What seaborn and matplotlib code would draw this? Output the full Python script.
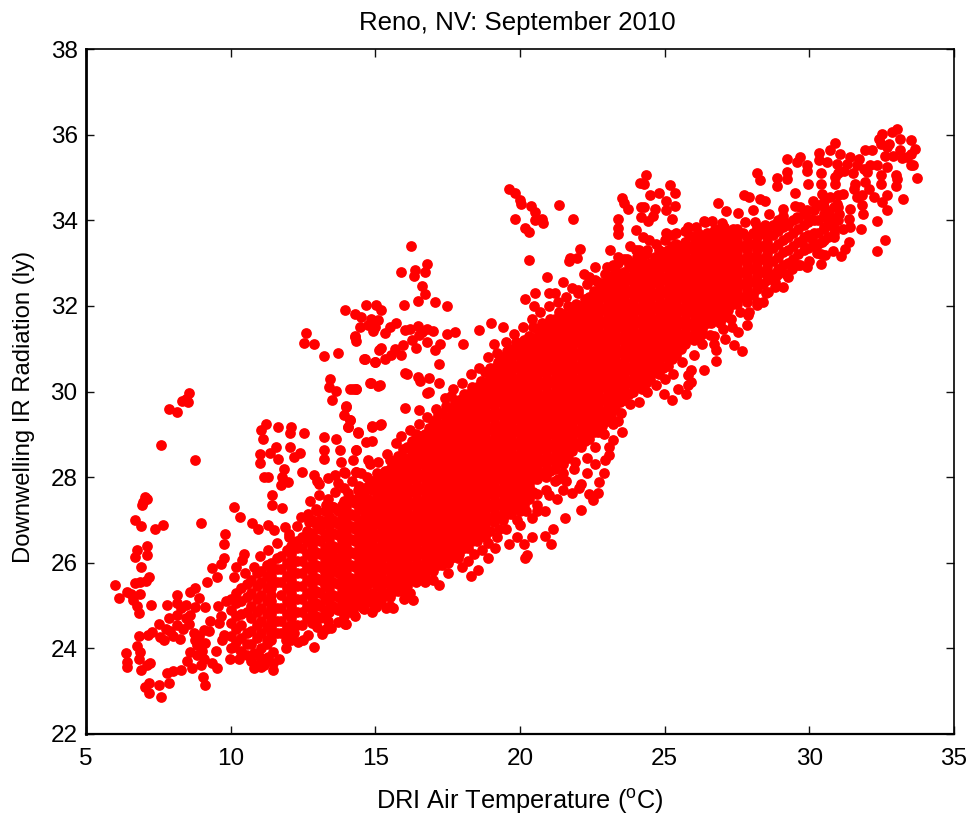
#!/usr/bin/env python3
# Reno, NV: September 2010 - downwelling IR against air temperature
import numpy as np
import pandas as pd
import matplotlib
matplotlib.use('Agg')
import matplotlib.pyplot as plt
import seaborn as sns

x_ticks = [5, 10, 15, 20, 25, 30, 35]
y_ticks = [22, 24, 26, 28, 30, 32, 34, 36, 38]

# (temperature, radiation)
cold_points = [
    (8.55,29.97),(8.47,29.83),(8.32,29.78),(8.52,29.76),(7.88,29.6),(8.16,29.51),(7.6,28.76),(8.78,28.39),
    (7.05,27.54),(6.93,27.36),(7.1,27.5),(6.98,27.42),(6.7,26.99),(6.91,26.85),(7.39,26.8),(7.67,26.89),(8.99,26.94),
    (6.77,26.29),(7.1,26.38),(6.7,26.14),(7.1,26.19),(6.91,25.9),(7.19,25.67),(7.08,25.58),(6.7,25.53),(6.87,25.54),
    (6.0,25.48),(6.14,25.17),(6.42,25.31),(6.56,25.28),(6.64,25.14),(6.87,25.28),(6.77,25.0),(6.84,24.83),(7.26,25.02),
    (8.78,25.4),(8.61,25.32),(8.16,25.24),(8.9,25.17),(9.13,24.97),(8.78,24.97),(8.44,25.01),(8.15,25.05),(7.8,25.01),
    (8.61,24.78),(8.15,24.78),(7.86,24.7),(8.55,24.58),(7.54,24.57),(8.15,24.54),(7.28,24.39),(6.84,24.29),(7.16,24.31),
    (7.57,24.27),(7.68,24.19),(8.26,24.23),(8.72,24.36),(9.07,24.43),(9.25,24.41),(9.77,24.31),(9.71,24.19),(9.59,24.6),
    (8.84,24.08),(9.1,24.12),(6.77,24.05),(6.39,23.9),(6.87,23.92),(6.84,23.76),(6.42,23.69),(6.42,23.57),(7.22,23.66),
    (7.1,23.62),(6.91,23.49),(8.59,23.92),(8.49,23.71),(8.84,23.84),(9.48,23.94),(9.07,23.76),(9.36,23.65),(9.54,23.53),
    (8.67,23.53),(8.96,23.61),(8.29,23.49),(8.01,23.48),(7.8,23.43),(9.05,23.34),(9.13,23.14),(7.88,23.2),(7.19,23.2),
    (7.05,23.1),(7.53,23.14),(7.19,22.96),(7.6,22.87),(7.9,24.4),(8.35,24.45),(8.9,24.3),(8.0,24.3),(9.0,23.95),
    (8.3,24.95),(8.45,24.7),(7.75,24.45),(8.75,24.2),(9.3,24.65),(9.65,24.75),(9.85,25.1),(9.55,25.0),
]
lower_left_points = [
    (9.96,23.76),(10.11,24.04),(10.35,23.92),(10.58,23.84),(10.81,23.9),(10.81,23.53),(11.04,23.57),(11.45,23.49),
    (11.48,23.65),(11.68,23.76),(11.91,24.02),(11.45,23.92),(12.31,24.15),(12.02,24.31),(12.66,24.31),(12.89,24.04),
    (13.16,24.33),(13.99,24.56),(13.7,24.62),(13.35,24.64),(13.47,24.47),(15.03,24.97),(14.6,24.93),(14.22,24.85),
    (11.15,23.6),(10.95,23.6),(11.25,24.1),(12.1,24.2),
]
left_arm_points = [
    (12.6,31.37),(12.52,31.14),(12.87,31.1),(13.24,30.82),(13.71,30.91),(14.28,31.27),(14.62,30.77),(14.98,30.68),(15.13,30.96),
    (13.44,30.3),(13.41,30.11),(13.64,30.01),(14.14,30.06),(14.34,30.06),(14.82,30.21),(15.09,30.12),(13.5,29.79),(13.99,29.65),
    (13.9,29.46),(14.14,29.33),(14.05,29.17),(14.41,29.04),(14.89,29.17),(15.15,29.21),(11.21,29.23),(11.04,29.1),(11.62,29.17),
    (12.08,29.17),(12.05,29.04),(12.53,29.04),(11.13,28.9),(13.24,28.94),(13.64,28.9),(11.56,28.71),(12.05,28.71),(11.0,28.53),
    (11.35,28.57),(12.39,28.57),(12.2,28.47),(11.63,28.43),(13.24,28.63),(13.24,28.43),(13.78,28.63),(13.82,28.36),(14.34,28.63),
    (11.0,28.34),(11.84,28.2),(12.46,28.11),(11.14,28.01),(11.29,28.01),(11.79,28.0),(11.97,27.89),(11.73,27.81),(12.89,28.05),
    (13.35,27.97),(13.6,28.05),(13.93,28.12),(14.34,28.11),(13.7,27.87),(13.07,27.85),(11.42,27.59),(11.42,27.36),(11.77,27.27),
    (12.74,27.45),(13.07,27.58),(13.35,27.5),(14.05,27.62),(10.1,27.31),(10.31,27.08),(10.73,26.94),(10.94,26.8),(11.28,26.89),
    (11.49,26.76),(11.87,26.84),(12.02,26.68),(12.43,27.07),(12.66,27.13),(9.82,26.66),(9.76,26.43),(9.77,26.1),(9.65,25.98),
    (9.34,25.87),(10.17,25.91),(10.11,25.67),(9.54,25.67),(9.19,25.54),(10.46,26.2),(10.4,26.06),(14.75,28.4),(14.7,28.0),
    (13.0,27.9),(12.95,27.25),(13.55,27.3),(13.9,27.45),(14.4,27.7),
]
upper_arm_points = [
    (13.94,31.9),(14.28,31.82),(14.69,32.03),(15.04,32.03),(15.19,31.9),(14.51,31.75),(14.86,31.7),(15.09,31.67),(14.46,31.51),
    (14.92,31.42),(15.32,31.36),(15.73,31.61),(16.02,31.43),(16.48,31.53),(16.77,31.47),(17.0,31.42),(14.28,31.3),(14.34,31.17),
    (16.5,31.32),(16.25,31.2),(15.19,31.02),(15.67,31.0),(15.96,31.08),(16.42,31.02),(16.77,31.16),(17.23,31.1),(17.06,30.97),
    (14.63,30.77),(14.98,30.68),(15.32,30.77),(15.9,30.85),(17.19,30.64),(16.02,30.44),(16.48,30.33),(16.85,30.31),(17.2,30.21),
    (14.84,30.21),(15.15,30.15),(14.23,30.07),(14.34,30.07),(16.8,29.96),(16.02,29.61),(16.5,29.57),(13.99,29.64),(14.11,29.33),
    (14.05,29.18),(14.4,29.05),(14.88,29.19),(15.19,29.24),(14.69,28.83),(14.9,28.85),(14.34,28.63),(14.23,28.4),(14.34,28.11),(13.94,28.09),
    (16.22,33.39),(16.78,32.97),(16.71,32.78),(16.37,32.84),(16.35,32.7),(15.87,32.78),(16.63,32.46),(16.71,32.27),(16.48,32.11),
    (16.0,32.03),(17.06,32.08),(17.47,32.0),(19.0,31.61),(18.58,31.43),(17.76,31.38),(17.47,31.34),(18.02,31.1),(15.5,31.5),(15.55,30.85),
    (14.75,31.55),(16.2,31.45),(16.6,31.4),(15.0,31.5),(16.1,30.4),(16.55,30.25),(16.85,30.0),
    (19.62,34.74),(19.84,34.64),(20.01,34.47),(20.05,34.39),(20.39,34.33),(20.51,34.2),(20.51,34.0),(20.76,34.04),(20.81,33.94),
    (19.83,34.04),(20.16,33.81),(20.3,33.72),(21.35,34.35),(21.84,34.04),(20.31,33.07),(21.74,33.11),(21.98,33.11),(22.06,33.34),
    (21.7,33.05),(23.1,33.3),(23.38,33.15),(23.2,32.95),(22.6,32.9),(22.4,32.68),(20.95,32.68),(21.5,32.55),(21.78,32.41),(21.99,32.36),
    (20.17,32.17),(20.52,32.31),(21.0,32.31),(23.52,34.51),(23.72,34.27),(23.38,34.04),(23.38,33.81),(23.38,33.69),(24.0,33.77),
    (24.16,34.86),(24.18,34.31),(24.18,34.08),(23.6,34.4),(24.36,35.05),(24.3,34.85),(25.19,34.83),(24.82,34.64),(24.49,34.6),(25.34,34.64),
    (25.05,34.46),(25.34,34.33),(24.3,34.32),(24.65,34.27),(25.05,34.23),(24.59,34.11),(24.41,33.99),(25.26,34.04),(25.05,33.71),(25.26,33.66),
    (24.47,33.53),(24.24,33.61),(23.8,33.4),(23.6,33.1),(24.1,33.3),(22.95,32.75),(22.7,32.55),
]
right_points = [
    (33.04,36.14),(32.86,36.06),(32.52,36.02),(32.4,35.9),(33.15,35.9),(33.5,35.87),(33.64,35.67),(32.75,35.79),(32.46,35.79),(33.15,35.63),
    (32.69,35.71),(30.87,35.81),(30.32,35.58),(29.22,35.44),(29.68,35.48),(29.56,35.36),(29.91,35.28),(29.91,35.15),(30.72,35.63),(31.07,35.55),
    (31.42,35.48),(31.71,35.44),(31.94,35.63),(32.17,35.63),(30.32,35.4),(30.6,35.36),(30.95,35.32),(31.3,35.32),(31.65,35.28),(32.0,35.13),
    (32.34,35.28),(32.69,35.24),(33.5,35.28),(33.38,35.48),(33.5,35.55),(33.6,35.3),(33.73,34.99),(32.98,35.06),(33.04,34.97),(32.98,34.79),
    (32.69,34.6),(32.46,35.05),(32.48,34.85),(31.94,34.89),(31.59,34.85),(31.55,34.74),(32.05,34.74),(32.23,34.54),(32.52,34.43),(32.69,34.23),
    (33.24,34.5),(32.34,33.99),(32.63,33.53),(32.34,33.29),(31.79,33.8),(31.42,33.84),(31.36,33.49),(31.24,33.34),(31.09,33.16),(30.81,33.28),
    (30.4,32.97),(30.55,33.18),(30.26,33.24),(29.91,32.91),(29.68,32.95),(29.41,32.87),(29.27,32.67),(29.08,32.44),(28.81,32.44),(28.41,32.08),
    (28.18,32.01),(28.58,32.32),(28.87,32.71),(28.18,35.11),(28.31,34.95),(28.87,34.99),(28.87,34.81),(29.22,35.13),(29.22,34.97),(29.97,34.84),
    (30.4,35.11),(30.4,34.84),(30.43,34.62),(30.72,34.54),(30.9,34.85),(31.18,34.62),(31.65,34.54),(31.82,34.58),(29.49,34.64),(30.12,34.46),
    (27.75,34.6),(27.92,34.54),(28.29,34.5),(28.46,34.46),(26.86,34.41),(27.13,34.22),(27.54,34.18),(28.04,34.23),(28.59,34.14),(29.08,34.27),
    (29.51,34.33),(29.68,34.31),(29.91,34.23),(30.49,34.31),(30.49,34.08),(30.95,34.39),(31.42,34.27),(31.82,34.35),(31.86,34.15),(31.01,34.15),
    (31.36,34.04),(25.81,33.85),(26.36,33.99),(26.65,33.99),(26.99,33.94),(27.77,33.96),(28.12,33.97),(28.46,33.88),(28.87,33.92),(29.22,33.94),
    (29.56,34.08),(30.03,34.04),(30.49,33.8),(30.84,33.84),(31.18,33.8),(30.08,33.57),(29.74,33.49),(30.43,33.49),(30.84,33.61),(30.7,34.1),(31.0,35.1),
    (30.9,35.0),(31.2,35.15),(31.5,35.1),(32.9,35.5),(33.2,35.45),(32.6,35.5),(32.1,35.3),(31.9,35.2),
]
lower_edge_points = [
    (27.68,30.95),(27.4,31.09),(26.79,30.72),(26.76,30.96),(26.7,31.12),(26.36,30.51),(25.9,30.5),(25.8,30.38),(25.92,30.22),(25.8,30.15),
    (25.74,29.93),(25.46,30.07),(24.97,29.93),(25.26,29.8),(27.83,31.55),(27.54,31.38),(27.08,31.23),(26.58,31.33),(27.31,31.51),(26.27,31.31),(27.89,31.78),
    (23.52,29.05),(23.22,28.87),(23.08,28.71),(23.08,28.52),(22.9,28.09),(22.73,27.88),(22.7,27.62),(22.38,27.61),(22.52,27.47),(22.12,27.23),
    (22.04,27.74),(21.81,27.64),(21.57,27.04),(21.13,26.8),(20.88,26.63),(21.08,26.44),(20.59,27.22),(20.24,26.18),(20.16,26.1),(20.13,26.44),
    (20.42,26.61),(20.01,26.88),(19.61,26.43),(19.26,26.8),(21.0,27.58),(21.29,27.5),(18.91,26.1),(19.14,26.34),(18.54,25.83),(18.3,25.68),
    (17.52,25.75),(17.87,26.1),(17.2,25.48),(16.29,25.13),(15.61,24.94),(15.38,24.94),(15.04,24.98),(14.57,24.94),(14.17,24.86),(13.96,24.57),
    (15.27,25.25),(15.96,25.33),(16.46,25.6),(17.41,26.38),(18.16,26.49),(21.6,27.9),(22.3,28.1),(21.9,28.35),(22.6,28.3),(21.2,27.9),(20.6,27.6),
    (20.85,27.2),(21.5,27.7),(22.1,27.85),(22.95,28.4),(23.4,29.3),(19.9,26.6),(18.7,26.3),(18.0,25.9),
]
# scattered marks along the rim of the dense part
upper_rim = [
    (10.5,25.75),(10.8,25.9),(11.0,26.15),(11.3,26.3),(11.6,26.45),(12.0,26.6),(12.3,26.85),(12.7,26.95),(13.0,27.2),(12.8,27.0),
    (13.3,27.35),(13.6,27.65),(13.9,27.75),(14.2,27.9),(14.5,28.1),(14.8,28.3),(15.1,28.35),(15.4,28.55),(15.7,28.8),(15.5,28.4),
    (15.9,28.95),(16.2,29.1),(16.5,29.25),(16.4,29.0),(16.8,29.4),(17.1,29.6),(17.4,29.85),(17.7,30.05),(18.0,30.2),(17.6,29.9),
    (18.3,30.4),(18.6,30.55),(18.9,30.8),(19.2,30.9),(19.1,31.1),(19.5,31.15),(19.8,31.35),(19.4,31.5),(20.1,31.5),(20.4,31.7),
    (20.7,31.85),(20.5,32.0),(21.0,32.0),(21.3,32.1),(21.2,32.3),(21.6,32.2),(22.0,32.3),(22.3,32.5),(22.2,32.75),(22.6,32.6),
    (23.0,32.9),(23.4,33.0),(23.7,33.1),(24.0,33.3),(24.4,33.3),(24.7,33.45),(25.0,33.55),(25.4,33.7),(25.7,33.75),(26.1,33.85),(26.4,33.95),
]
lower_rim = [
    (10.3,23.75),(10.7,23.7),(11.0,23.8),(11.3,23.8),(11.9,24.2),(12.5,24.2),(12.2,24.35),(13.0,24.5),(13.3,24.45),(13.9,24.75),
    (14.3,24.75),(14.9,24.85),(15.5,25.0),(16.0,25.15),(16.2,25.3),(16.7,25.55),(17.0,25.6),(17.5,26.0),(18.2,26.05),(18.4,26.2),
    (18.9,26.45),(19.2,26.6),(19.5,26.8),(19.9,27.0),(20.2,27.2),(20.4,27.05),(20.6,27.35),(20.9,27.7),(21.3,27.95),(21.5,28.1),
    (21.85,28.2),(22.3,28.45),(22.6,28.7),(22.9,29.0),(23.2,29.25),(23.5,29.5),(23.8,29.7),(24.1,29.75),(24.4,30.0),(24.7,30.15),
    (25.0,30.3),(25.3,30.4),(25.6,30.7),(26.0,30.85),(26.3,31.1),(26.7,31.3),(27.0,31.45),(27.3,31.7),(27.6,31.85),(27.9,31.85),
    (28.2,32.1),(28.5,32.3),(28.8,32.55),(29.2,32.75),(29.6,32.95),(30.0,33.05),(30.4,33.2),
]

# dense part of the cloud, estimated column by column
band_columns = [
    (10.0,[24.0,24.3,24.6,24.9,25.15]),
    (10.35,[23.95,24.25,24.55,24.8,25.1,25.4]),
    (10.7,[24.1,24.4,24.7,25.0,25.3,25.6]),
    (11.05,[24.0,24.35,24.65,24.95,25.25,25.55,25.8]),
    (11.4,[24.2,24.5,24.8,25.1,25.4,25.7,26.0]),
    (11.75,[24.35,24.65,24.95,25.25,25.55,25.85,26.15]),
    (12.1,[24.4,24.7,25.0,25.3,25.6,25.9,26.2,26.4]),
    (12.45,[24.55,24.85,25.15,25.45,25.75,26.05,26.35,26.6]),
    (12.8,[24.6,24.9,25.2,25.5,25.8,26.1,26.4,26.7]),
    (13.1,[24.7,25.0,25.3,25.6,25.9,26.2,26.5,26.8,27.0]),
    (13.4,[24.85,25.1,25.4,25.7,26.0,26.25,26.55,26.85,27.1]),
    (13.7,[24.9,25.2,25.5,25.75,26.05,26.35,26.65,26.9,27.2]),
    (14.0,[24.95,25.25,25.5,25.8,26.1,26.4,26.7,27.0,27.3]),
    (14.3,[25.0,25.3,25.6,25.9,26.2,26.5,26.8,27.1,27.4]),
    (14.6,[25.05,25.35,25.6,25.9,26.2,26.5,26.8,27.05,27.35,27.65]),
    (14.9,[25.05,25.3,25.6,25.9,26.2,26.5,26.8,27.1,27.4,27.7,27.9]),
    (15.2,[25.1,25.4,25.7,26.0,26.25,26.55,26.85,27.15,27.45,27.75,28.0]),
    (15.5,[25.2,25.5,25.8,26.1,26.4,26.7,27.0,27.3,27.6,27.9,28.2]),
    (15.8,[25.35,25.6,25.9,26.2,26.5,26.8,27.1,27.4,27.7,28.0,28.3,28.5]),
    (16.1,[25.45,25.75,26.05,26.35,26.65,26.95,27.25,27.55,27.85,28.15,28.45,28.7]),
    (16.4,[25.55,25.8,26.1,26.4,26.7,27.0,27.3,27.6,27.9,28.2,28.5,28.8]),
    (16.7,[25.7,26.0,26.3,26.6,26.9,27.2,27.5,27.8,28.1,28.4,28.7,29.0]),
    (17.0,[25.8,26.1,26.4,26.7,27.0,27.3,27.6,27.9,28.2,28.5,28.8,29.1,29.3]),
    (17.3,[25.95,26.25,26.55,26.85,27.15,27.45,27.75,28.05,28.35,28.65,28.95,29.25,29.5]),
    (17.6,[26.1,26.4,26.7,27.0,27.3,27.6,27.9,28.2,28.5,28.8,29.1,29.4,29.6]),
    (17.9,[26.2,26.5,26.8,27.1,27.4,27.7,28.0,28.3,28.6,28.9,29.2,29.5,29.8]),
    (18.2,[26.35,26.65,26.95,27.25,27.55,27.85,28.15,28.45,28.75,29.05,29.35,29.65,29.95]),
    (18.5,[26.5,26.8,27.1,27.4,27.7,28.0,28.3,28.6,28.9,29.2,29.5,29.8,30.1]),
    (18.8,[26.6,26.9,27.2,27.5,27.8,28.1,28.4,28.7,29.0,29.3,29.6,29.9,30.2,30.45]),
    (19.1,[26.95,27.25,27.55,27.85,28.15,28.45,28.75,29.05,29.35,29.65,29.95,30.25,30.55]),
    (19.4,[27.0,27.3,27.6,27.9,28.2,28.5,28.8,29.1,29.4,29.7,30.0,30.3,30.6,30.8]),
    (19.7,[27.15,27.45,27.75,28.05,28.35,28.65,28.95,29.25,29.55,29.85,30.15,30.45,30.75,31.0]),
    (20.0,[27.2,27.5,27.8,28.1,28.4,28.7,29.0,29.3,29.6,29.9,30.2,30.5,30.8,31.05]),
    (20.3,[27.5,27.8,28.1,28.4,28.7,29.0,29.3,29.6,29.9,30.2,30.5,30.8,31.1,31.3]),
    (20.6,[27.95,28.25,28.55,28.85,29.15,29.45,29.75,30.05,30.35,30.65,30.95,31.25,31.45]),
    (20.9,[28.0,28.3,28.6,28.9,29.2,29.5,29.8,30.1,30.4,30.7,31.0,31.3,31.55]),
    (21.2,[28.2,28.5,28.8,29.1,29.4,29.7,30.0,30.3,30.6,30.9,31.2,31.5,31.7]),
    (21.5,[28.3,28.6,28.9,29.2,29.5,29.8,30.1,30.4,30.7,31.0,31.3,31.6,31.8]),
    (21.8,[28.6,28.9,29.2,29.5,29.8,30.1,30.4,30.7,31.0,31.3,31.6,31.9]),
    (22.1,[28.7,29.0,29.3,29.6,29.9,30.2,30.5,30.8,31.1,31.4,31.7,32.0]),
    (22.4,[28.9,29.2,29.5,29.8,30.1,30.4,30.7,31.0,31.3,31.6,31.9,32.2]),
    (22.7,[29.05,29.35,29.65,29.95,30.25,30.55,30.85,31.15,31.45,31.75,32.05,32.35]),
    (23.0,[29.3,29.6,29.9,30.2,30.5,30.8,31.1,31.4,31.7,32.0,32.3,32.6]),
    (23.3,[29.6,29.9,30.2,30.5,30.8,31.1,31.4,31.7,32.0,32.3,32.6,32.85]),
    (23.6,[29.8,30.1,30.4,30.7,31.0,31.3,31.6,31.9,32.2,32.5,32.8]),
    (23.9,[30.0,30.3,30.6,30.9,31.2,31.5,31.8,32.1,32.4,32.7,33.0]),
    (24.2,[30.05,30.35,30.65,30.95,31.25,31.55,31.85,32.15,32.45,32.75,33.05]),
    (24.5,[30.3,30.6,30.9,31.2,31.5,31.8,32.1,32.4,32.7,33.0]),
    (24.8,[30.4,30.7,31.0,31.3,31.6,31.9,32.2,32.5,32.8,33.1,33.3]),
    (25.1,[30.6,30.9,31.2,31.5,31.8,32.1,32.4,32.7,33.0,33.3]),
    (25.4,[30.85,31.15,31.45,31.75,32.05,32.35,32.65,32.95,33.25,33.45]),
    (25.7,[31.1,31.4,31.7,32.0,32.3,32.6,32.9,33.2,33.5]),
    (26.0,[31.2,31.5,31.8,32.1,32.4,32.7,33.0,33.3,33.6]),
    (26.3,[31.45,31.75,32.05,32.35,32.65,32.95,33.25,33.55]),
    (26.6,[31.6,31.9,32.2,32.5,32.8,33.1,33.4,33.7]),
    (26.9,[31.6,31.9,32.2,32.5,32.8,33.1,33.4,33.7]),
    (27.2,[31.9,32.2,32.5,32.8,33.1,33.4,33.65]),
    (27.5,[32.05,32.35,32.65,32.95,33.25,33.55,33.8]),
    (27.85,[32.1,32.4,32.7,33.0,33.3,33.6]),
    (28.2,[32.4,32.7,33.0,33.3,33.6,33.85]),
    (28.55,[32.6,32.9,33.2,33.5,33.75]),
    (28.9,[32.85,33.15,33.45,33.75,34.0]),
    (29.25,[33.0,33.3,33.6,33.9]),
    (29.6,[33.2,33.5,33.8,34.05]),
    (29.95,[33.35,33.65,33.95]),
    (30.3,[33.45,33.7,34.0,34.35]),
    (30.65,[33.6,33.9,34.2]),
    (31.0,[34.0,34.3,34.6]),
]

# second pass over the dense part, between the columns above
fill_columns = [
    (10.2,[24.15,24.45,24.75,25.05,25.3]),
    (10.55,[24.1,24.35,24.85,25.2,25.5]),
    (10.9,[24.25,24.55,24.85,25.15,25.45,25.75]),
    (11.25,[24.2,24.5,24.8,25.1,25.4,25.7,25.95]),
    (11.6,[24.35,24.65,24.95,25.55,25.85,26.1]),
    (11.95,[24.5,24.8,25.1,25.4,25.7,26.0,26.3]),
    (12.3,[24.55,24.85,25.15,25.45,25.75,26.05,26.35,26.5]),
    (12.65,[24.7,25.0,25.3,25.6,25.9,26.2,26.5,26.75]),
    (12.95,[24.75,25.05,25.35,25.65,25.95,26.25,26.55,26.9]),
    (13.25,[24.85,25.15,25.45,25.75,26.05,26.35,26.65,26.95,27.2]),
    (13.55,[25.0,25.25,25.55,25.85,26.15,26.4,26.7,27.0,27.3]),
    (13.85,[25.05,25.35,25.65,25.95,26.2,26.5,26.8,27.05,27.35]),
    (14.15,[25.1,25.4,25.65,25.95,26.25,26.55,26.85,27.15,27.5]),
    (14.45,[25.15,25.45,25.75,26.05,26.35,26.65,26.95,27.25,27.55,27.8]),
    (14.75,[25.2,25.5,25.75,26.05,26.35,26.65,26.95,27.2,27.5,27.8]),
    (15.05,[25.2,25.45,25.75,26.05,26.35,26.65,26.95,27.25,27.55,27.85,28.1]),
    (15.35,[25.25,25.55,25.85,26.15,26.4,26.7,27.0,27.3,27.6,27.9,28.15]),
    (15.65,[25.35,25.65,25.95,26.25,26.55,26.85,27.15,27.45,27.75,28.05,28.35]),
    (15.95,[25.5,25.75,26.05,26.35,26.65,26.95,27.25,27.55,27.85,28.15,28.45,28.65]),
    (16.25,[25.6,25.9,26.2,26.5,26.8,27.1,27.4,27.7,28.0,28.3,28.6,28.85]),
    (16.55,[25.7,25.95,26.25,26.55,26.85,27.15,27.45,27.75,28.05,28.35,28.65,28.95]),
    (16.85,[25.85,26.15,26.45,26.75,27.05,27.35,27.65,27.95,28.25,28.55,28.85,29.15]),
    (17.15,[25.95,26.25,26.55,26.85,27.15,27.45,27.75,28.05,28.35,28.65,28.95,29.25,29.45]),
    (17.45,[26.1,26.4,26.7,27.0,27.3,27.6,27.9,28.2,28.5,28.8,29.1,29.4,29.65]),
    (17.75,[26.25,26.55,26.85,27.15,27.45,27.75,28.05,28.35,28.65,28.95,29.25,29.55,29.75]),
    (18.05,[26.35,26.65,26.95,27.25,27.55,27.85,28.15,28.45,28.75,29.05,29.35,29.65,29.95]),
    (18.35,[26.5,26.8,27.1,27.4,27.7,28.0,28.3,28.6,28.9,29.2,29.5,29.8,30.1]),
    (18.65,[26.65,26.95,27.25,27.55,27.85,28.15,28.45,28.75,29.05,29.35,29.65,29.95,30.25]),
    (18.95,[26.75,27.05,27.35,27.65,27.95,28.25,28.55,28.85,29.15,29.45,29.75,30.05,30.35,30.55]),
    (19.25,[27.1,27.4,27.7,28.0,28.3,28.6,28.9,29.2,29.5,29.8,30.1,30.4,30.7]),
    (19.55,[27.15,27.45,27.75,28.05,28.35,28.65,28.95,29.25,29.55,29.85,30.15,30.45,30.75,30.95]),
    (19.85,[27.3,27.6,27.9,28.2,28.5,28.8,29.1,29.4,29.7,30.0,30.3,30.6,30.9,31.15]),
    (20.15,[27.35,27.65,27.95,28.25,28.55,28.85,29.15,29.45,29.75,30.05,30.35,30.65,30.95,31.2]),
    (20.45,[27.65,27.95,28.25,28.55,28.85,29.15,29.45,29.75,30.05,30.35,30.65,30.95,31.25,31.5]),
    (20.75,[28.1,28.4,28.7,29.0,29.3,29.6,29.9,30.2,30.5,30.8,31.1,31.4,31.6]),
    (21.05,[28.15,28.45,28.75,29.05,29.35,29.65,29.95,30.25,30.55,30.85,31.15,31.45,31.7]),
    (21.35,[28.35,28.65,28.95,29.25,29.55,29.85,30.15,30.45,30.75,31.05,31.35,31.65,31.85]),
    (21.65,[28.45,28.75,29.05,29.35,29.65,29.95,30.25,30.55,30.85,31.15,31.45,31.75,32.0]),
    (21.95,[28.75,29.05,29.35,29.65,29.95,30.25,30.55,30.85,31.15,31.45,31.75,32.05]),
    (22.25,[28.85,29.15,29.45,29.75,30.05,30.35,30.65,30.95,31.25,31.55,31.85,32.15]),
    (22.55,[29.05,29.35,29.65,29.95,30.25,30.55,30.85,31.15,31.45,31.75,32.05,32.35]),
    (22.85,[29.2,29.5,29.8,30.1,30.4,30.7,31.0,31.3,31.6,31.9,32.2,32.5]),
    (23.15,[29.45,29.75,30.05,30.35,30.65,30.95,31.25,31.55,31.85,32.15,32.45,32.7]),
    (23.45,[29.75,30.05,30.35,30.65,30.95,31.25,31.55,31.85,32.15,32.45,32.75]),
    (23.75,[29.95,30.25,30.55,30.85,31.15,31.45,31.75,32.05,32.35,32.65,32.95]),
    (24.05,[30.15,30.45,30.75,31.05,31.35,31.65,31.95,32.25,32.55,32.85,33.15]),
    (24.35,[30.2,30.5,30.8,31.1,31.4,31.7,32.0,32.3,32.6,32.9,33.2]),
    (24.65,[30.45,30.75,31.05,31.35,31.65,31.95,32.25,32.55,32.85,33.15]),
    (24.95,[30.55,30.85,31.15,31.45,31.75,32.05,32.35,32.65,32.95,33.25]),
    (25.25,[30.75,31.05,31.35,31.65,31.95,32.25,32.55,32.85,33.15,33.4]),
    (25.55,[31.0,31.3,31.6,31.9,32.2,32.5,32.8,33.1,33.4]),
    (25.85,[31.25,31.55,31.85,32.15,32.45,32.75,33.05,33.35,33.65]),
    (26.15,[31.35,31.65,31.95,32.25,32.55,32.85,33.15,33.45,33.7]),
    (26.45,[31.6,31.9,32.2,32.5,32.8,33.1,33.4,33.7]),
    (26.75,[31.75,32.05,32.35,32.65,32.95,33.25,33.55,33.8]),
    (27.05,[31.75,32.05,32.35,32.65,32.95,33.25,33.55,33.85]),
    (27.35,[32.05,32.35,32.65,32.95,33.25,33.55,33.8]),
    (27.7,[32.2,32.5,32.8,33.1,33.4,33.7]),
    (28.05,[32.25,32.55,32.85,33.15,33.45,33.7]),
    (28.4,[32.5,32.8,33.1,33.4,33.7]),
    (28.75,[32.75,33.05,33.35,33.65,33.9]),
    (29.1,[32.95,33.25,33.55,33.85,34.1]),
    (29.45,[33.1,33.4,33.7,34.0]),
    (29.8,[33.3,33.6,33.9,34.15]),
    (30.15,[33.4,33.7,34.0,34.25]),
    (30.5,[33.55,33.85,34.15,34.45]),
    (30.85,[33.7,34.0,34.3]),
]

# third pass, closes the gaps left in the solid core
core_columns = [
    (11.4,[24.35,24.65,24.95,25.25,25.55,25.85]),
    (12.1,[24.55,24.85,25.15,25.45,25.75,26.05]),
    (12.8,[24.75,25.05,25.35,25.65,25.95,26.25,26.55]),
    (13.4,[24.95,25.25,25.55,25.85,26.15,26.4,26.7,27.0]),
    (14.0,[25.1,25.35,25.65,25.95,26.25,26.55,26.85,27.15]),
    (14.6,[25.2,25.45,25.75,26.05,26.35,26.65,26.9,27.2,27.5]),
    (15.2,[25.25,25.55,25.85,26.1,26.4,26.7,27.0,27.3,27.6,27.9]),
    (15.8,[25.45,25.75,26.05,26.35,26.65,26.95,27.25,27.55,27.85,28.15]),
    (16.4,[25.7,25.95,26.25,26.55,26.85,27.15,27.45,27.75,28.05,28.35,28.65]),
    (17.0,[25.95,26.25,26.55,26.85,27.15,27.45,27.75,28.05,28.35,28.65,28.95]),
    (17.6,[26.25,26.55,26.85,27.15,27.45,27.75,28.05,28.35,28.65,28.95,29.25]),
    (18.2,[26.5,26.8,27.1,27.4,27.7,28.0,28.3,28.6,28.9,29.2,29.5,29.8]),
    (18.8,[26.75,27.05,27.35,27.65,27.95,28.25,28.55,28.85,29.15,29.45,29.75,30.05]),
    (19.4,[27.15,27.45,27.75,28.05,28.35,28.65,28.95,29.25,29.55,29.85,30.15,30.45]),
    (20.0,[27.35,27.65,27.95,28.25,28.55,28.85,29.15,29.45,29.75,30.05,30.35,30.65]),
    (20.6,[28.1,28.4,28.7,29.0,29.3,29.6,29.9,30.2,30.5,30.8,31.1]),
    (21.2,[28.35,28.65,28.95,29.25,29.55,29.85,30.15,30.45,30.75,31.05,31.35]),
    (21.8,[28.75,29.05,29.35,29.65,29.95,30.25,30.55,30.85,31.15,31.45,31.75]),
    (22.4,[29.05,29.35,29.65,29.95,30.25,30.55,30.85,31.15,31.45,31.75,32.05]),
    (23.0,[29.45,29.75,30.05,30.35,30.65,30.95,31.25,31.55,31.85,32.15,32.45]),
    (23.6,[29.95,30.25,30.55,30.85,31.15,31.45,31.75,32.05,32.35,32.65]),
    (24.2,[30.2,30.5,30.8,31.1,31.4,31.7,32.0,32.3,32.6,32.9]),
    (24.8,[30.55,30.85,31.15,31.45,31.75,32.05,32.35,32.65,32.95]),
    (25.4,[31.0,31.3,31.6,31.9,32.2,32.5,32.8,33.1]),
    (26.0,[31.35,31.65,31.95,32.25,32.55,32.85,33.15,33.45]),
    (26.6,[31.75,32.05,32.35,32.65,32.95,33.25,33.55]),
    (27.2,[32.05,32.35,32.65,32.95,33.25,33.5]),
    (27.85,[32.25,32.55,32.85,33.15,33.45]),
    (28.55,[32.75,33.05,33.35,33.6]),
    (15.5,[25.35,25.65,25.95,26.25,26.55,26.85,27.15,27.45,27.75,28.05]),
    (16.1,[25.6,25.9,26.2,26.5,26.8,27.1,27.4,27.7,28.0,28.3]),
    (16.7,[25.85,26.15,26.45,26.75,27.05,27.35,27.65,27.95,28.25,28.55,28.85]),
    (17.3,[26.1,26.4,26.7,27.0,27.3,27.6,27.9,28.2,28.5,28.8,29.1]),
    (17.9,[26.35,26.65,26.95,27.25,27.55,27.85,28.15,28.45,28.75,29.05,29.35,29.65]),
    (18.5,[26.65,26.95,27.25,27.55,27.85,28.15,28.45,28.75,29.05,29.35,29.65,29.95]),
    (19.1,[27.1,27.4,27.7,28.0,28.3,28.6,28.9,29.2,29.5,29.8,30.1,30.4]),
    (19.7,[27.3,27.6,27.9,28.2,28.5,28.8,29.1,29.4,29.7,30.0,30.3,30.6]),
    (20.3,[27.65,27.95,28.25,28.55,28.85,29.15,29.45,29.75,30.05,30.35,30.65,30.95]),
    (20.9,[28.15,28.45,28.75,29.05,29.35,29.65,29.95,30.25,30.55,30.85,31.15]),
    (21.5,[28.45,28.75,29.05,29.35,29.65,29.95,30.25,30.55,30.85,31.15,31.45]),
    (22.1,[28.85,29.15,29.45,29.75,30.05,30.35,30.65,30.95,31.25,31.55,31.85]),
    (22.7,[29.2,29.5,29.8,30.1,30.4,30.7,31.0,31.3,31.6,31.9,32.2]),
    (23.3,[29.75,30.05,30.35,30.65,30.95,31.25,31.55,31.85,32.15,32.45]),
    (23.9,[30.15,30.45,30.75,31.05,31.35,31.65,31.95,32.25,32.55,32.85]),
    (24.5,[30.45,30.75,31.05,31.35,31.65,31.95,32.25,32.55,32.85]),
    (25.1,[30.75,31.05,31.35,31.65,31.95,32.25,32.55,32.85,33.15]),
    (25.7,[31.25,31.55,31.85,32.15,32.45,32.75,33.05,33.35]),
    (26.3,[31.6,31.9,32.2,32.5,32.8,33.1,33.4]),
    (26.9,[31.75,32.05,32.35,32.65,32.95,33.25,33.55]),
    (27.5,[32.2,32.5,32.8,33.1,33.4,33.65]),
    (28.2,[32.55,32.85,33.15,33.45,33.75]),
]

pts = (cold_points + lower_left_points + left_arm_points + upper_arm_points
       + right_points + lower_edge_points + upper_rim + lower_rim)
for t, rs in band_columns + fill_columns + core_columns:
    pts = pts + [(t, r) for r in rs]
df = pd.DataFrame(pts, columns=['temp', 'rad'])

sns.set_style('ticks')
plt.rcParams['font.family'] = ['Liberation Sans', 'DejaVu Sans']
plt.rcParams['mathtext.default'] = 'regular'
plt.rcParams['text.color'] = 'black'
plt.rcParams['axes.labelcolor'] = 'black'
plt.rcParams['xtick.labelcolor'] = 'black'
plt.rcParams['ytick.labelcolor'] = 'black'

fig = plt.figure(figsize=(9.73, 8.15), dpi=100)
ax = fig.add_axes([86/973, 1-734/815, 868/973, 685/815])
sns.scatterplot(data=df, x='temp', y='rad', color='#ff0000', s=60, linewidth=0, ax=ax)

ax.set_xlim(5, 35)
ax.set_ylim(22, 38)
ax.set_xticks(x_ticks)
ax.set_yticks(y_ticks)
ax.tick_params(direction='in', length=6, width=1.0, top=True, right=True, labelsize=17.5, color='#111111')
ax.tick_params(axis='x', pad=10)
ax.tick_params(axis='y', pad=6)
for side, lw in [('left', 2.0), ('bottom', 1.6), ('top', 1.2), ('right', 1.2)]:
    ax.spines[side].set_visible(True)
    ax.spines[side].set_linewidth(lw)
    ax.spines[side].set_color('black')
ax.set_title('Reno, NV: September 2010', x=0.497, fontsize=18.6, pad=14)
ax.set_xlabel('DRI Air Temperature ($^{o}$C)', fontsize=18.3, labelpad=12)
ax.set_ylabel('Downwelling IR Radiation (ly)', fontsize=17.2, labelpad=11, y=0.478)

plt.savefig('out.png', dpi=100)
plt.close()
